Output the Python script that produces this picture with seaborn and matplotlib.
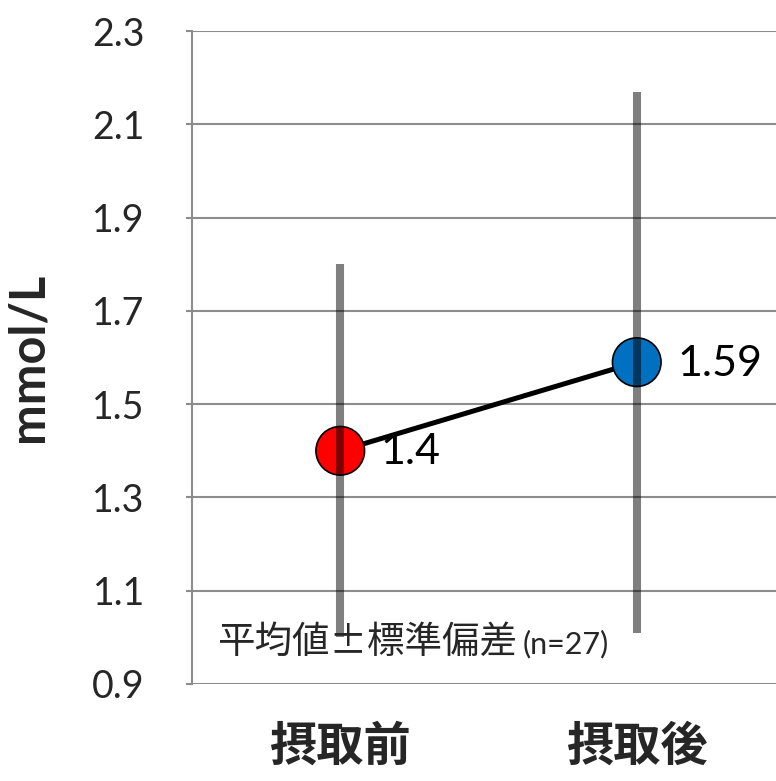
import matplotlib
matplotlib.use("Agg")
import matplotlib.pyplot as plt
import seaborn as sns
import pandas as pd

# data
categories = ["摂取前", "摂取後"]
means = [1.4, 1.59]
sds = [0.40, 0.58]
point_colors = ["#FF0000", "#0070C0"]
value_labels = ["1.4", "1.59"]
y_ticks = [0.9, 1.1, 1.3, 1.5, 1.7, 1.9, 2.1, 2.3]
note_text = "平均値±標準偏差"
note_n = "(n=27)"

sns.set_theme(style="white")
plt.rcParams["font.family"] = ["Lato", "Noto Sans CJK JP", "DejaVu Sans"]

df = pd.DataFrame({"pos": range(len(categories)), "mean": means,
                   "group": categories})

fig = plt.figure(figsize=(7.76, 7.81), dpi=100)
ax = fig.add_axes([0.2474, 0.1242, 1.0116 - 0.2474, 0.9603 - 0.1242])

# connecting line
sns.lineplot(data=df, x="pos", y="mean", color="black", linewidth=3.6,
             ax=ax, zorder=2, legend=False)
# mean markers
sns.scatterplot(data=df, x="pos", y="mean", hue="group",
                palette=dict(zip(categories, point_colors)), s=35 ** 2,
                edgecolor="black", linewidth=1.2, ax=ax, zorder=3,
                legend=False)
# standard deviation bars
lows = [m - s for m, s in zip(means, sds)]
highs = [m + s for m, s in zip(means, sds)]
ax.vlines(df["pos"], lows, highs, colors="black", alpha=0.5,
          linewidth=5.8, zorder=4)

# value labels
for x, y, t in zip(df["pos"], means, value_labels):
    ax.annotate(t, (x, y), xytext=(29, -1), textcoords="offset points",
                va="center", ha="left", fontsize=31, color="black", zorder=5)

ax.set_xlim(-0.5, 1.5)
ax.set_ylim(0.9, 2.3)
ax.set_yticks(y_ticks)
ax.set_yticklabels([f"{v:.1f}" for v in y_ticks], fontsize=27)
ax.set_xticks(df["pos"])
ax.set_xticklabels(categories, fontsize=34, fontweight="bold",
                   family=["Noto Sans CJK JP"])
ax.set_xlabel("")
ax.set_ylabel("mmol/L", fontsize=35, fontweight="bold")
ax.yaxis.set_label_coords(-0.238, 0.5)

ax.grid(axis="y", color="#8c8c8c", linewidth=1.5, zorder=0)
ax.grid(axis="x", visible=False)
ax.set_axisbelow(True)
for side in ["top", "right", "bottom"]:
    ax.spines[side].set_visible(False)
ax.spines["left"].set_color("#8c8c8c")
ax.spines["left"].set_linewidth(1.5)
ax.tick_params(axis="y", direction="out", length=4, width=1.5,
               color="#8c8c8c", pad=30, left=True)
ax.tick_params(axis="x", length=0, pad=28)

# note at the bottom of the plot
note = ax.text(-0.415, 0.99, note_text, fontsize=27, va="center", ha="left",
               family=["Noto Sans CJK JP"], zorder=5)
ax.annotate(note_n, xy=(1, 0.45), xycoords=note, xytext=(4, 0),
            textcoords="offset points", fontsize=22, va="center", ha="left",
            zorder=5)

fig.savefig("out.png", dpi=100)
